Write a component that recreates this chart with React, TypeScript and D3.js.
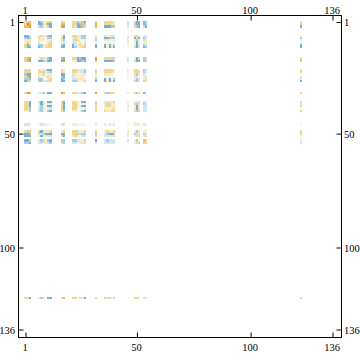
import React from "react";
import * as d3 from "d3";

const tickValues = [1, 50, 100, 136];
const indices = [1,2,3, 7,8,9,10,11,12, 17,18, 22,23,24,25,26,27, 32, 36,37,38,39,40, 46, 49,50,51, 53,54, 122];
// upper triangle of the symmetric matrix, each row starts on the diagonal
const upper: number[][] = [
  [2,2,3, -3,-2,1,1,2,2, 2,2, 2,2,-2,2,-2,-3, 2, 2,2,2,2,1, -1, 2,-3,-3, -3,-2, 2],
  [5,3, -3,-3,1,2,-3,-3, 3,3, 2,2,-3,3,-2,-2, 4, 2,2,2,2,1, -1, -2,-3,-3, -3,-2, 2],
  [4, 2,-2,1,1,2,-3, 4,-3, 2,-1,-3,-3,3,2, 3, -3,-3,-3,-2,-2, 1, 2,3,-3, 2,-3, -3],
  [1,2,1,-1,-2,-3, 1,-3, 2,2,1,-1,-2,-2, 1, -1,1,1,-1,-1, 0, 2,2,1, -1,-1, 1],
  [1,1,0,-2,-2, 2,-3, 1,2,1,1,-2,-2, -1, -3,-3,-2,-2,-2, -1, -3,-1,-3, -2,-1, -2],
  [1,0,1,1, -1,-2, -1,2,2,0,0,1, -2, 1,1,1,1,1, 1, 1,-2,1, 2,1, 1],
  [0,1,2, 1,-1, -1,-1,0,1,0,-1, 0, 0,0,0,0,0, 1, 1,-3,1, 1,1, 0],
  [2,2, -2,-3, -3,-1,1,2,1,2, -3, -3,1,-3,1,-2, 0, 1,-3,-1, -2,-1, -3],
  [2, -3,-3, -3,-2,1,1,2,2, -3, -3,1,-3,-1,-3, 0, 2,-3,-1, -3,-2, -3],
  [3,-3, 2,2,-3,-2,-3,-3, 4, 2,2,2,2,2, -1, 1,-3,2, -2,2, 2],
  [4, 1,1,-3,-3,-2,-3, 3, -3,-3,-3,-3,-2, -1, 2,-3,-3, -2,-2, 3],
  [2,2,-1,-1,-1,-2, 2, 2,2,2,2,1, 1, 2,2,1, -2,-1, 2],
  [2,1,1,-1,-2, 2, 2,2,2,2,1, 1, 2,2,2, -2,-1, 2],
  [1,0,1,1, -1, 1,1,1,0,0, 0, -1,-2,1, -1,0, 0],
  [1,1,0, 1, 0,0,0,0,0, 0, 1,-1,0, 1,1, -1],
  [1,1, -2, -3,0,-3,0,-2, 0, 1,-2,-1, 1,-1, -1],
  [2, -3, -3,1,-3,1,-3, 0, 2,-2,-1, 2,-1, -3],
  [4, 2,-2,2,2,2, 1, 2,-2,2, -3,-1, 2],
  [1,-1,1,1,2, 1, 1,-1,-1, -1,-1, 2],
  [2,2,1,1, 0, 2,-2,-1, -2,-1, -1],
  [2,1,1, -1, 1,-3,1, -1,-1, 2],
  [1,2, 0, 1,-3,-1, -1,-1, 0],
  [2, 1, 2,-2,2, -1,-1, 2],
  [0, 1,1,1, -1,0, 0],
  [1,-2,1, 1,1, 2],
  [2,-1, -2,-1, 2],
  [2, 1,2, 1],
  [3,2, -1],
  [2, -1],
  [2],
];

const width = 360;
const height = 353;
const frame = { left: 18.5, right: 341.5, top: 15.5, bottom: 337.5 };
const tickLen = 5;

const x = d3.scaleLinear().domain([1, 136]).range([26, 333]);
const y = d3.scaleLinear().domain([1, 136]).range([22.5, 330]);
const color = d3
  .scaleLinear<string>()
  .domain([-3, -2, -1, 0, 1, 2, 3, 4, 5])
  .range(["#74b1d6", "#a9cee3", "#d3e5f0", "#f6f6ec", "#f5ebc4", "#f0d690", "#edbb5e", "#e8a324", "#e0801c"]);

const font = { fontFamily: "'Liberation Serif', serif", fontSize: 10.5, fill: "#000" };

export default function App() {
  const cw = x(2) - x(1);
  const ch = y(2) - y(1);
  const cells: { r: number; c: number; v: number }[] = [];
  upper.forEach((row, i) => {
    row.forEach((v, k) => {
      const j = i + k;
      cells.push({ r: indices[i], c: indices[j], v });
      if (i !== j) cells.push({ r: indices[j], c: indices[i], v });
    });
  });
  return (
    <svg width={width} height={height} style={{ position: "absolute", left: 0, top: 0, background: "#fff" }}>
      <g shapeRendering="crispEdges">
        {cells.map((d, i) => (
          <rect
            key={i}
            x={x(d.c) - cw * 0.7}
            y={y(d.r) - ch * 0.7}
            width={cw}
            height={ch}
            fill={color(d.v)}
          />
        ))}
      </g>
      <rect
        x={frame.left}
        y={frame.top}
        width={frame.right - frame.left}
        height={frame.bottom - frame.top}
        fill="none"
        stroke="#000"
        strokeWidth={1}
      />
      {tickValues.map((t) => (
        <g key={t}>
          <line x1={x(t)} x2={x(t)} y1={frame.top} y2={frame.top + tickLen} stroke="#000" />
          <line x1={x(t)} x2={x(t)} y1={frame.bottom} y2={frame.bottom - tickLen} stroke="#000" />
          <line y1={y(t)} y2={y(t)} x1={frame.left} x2={frame.left + tickLen} stroke="#000" />
          <line y1={y(t)} y2={y(t)} x1={frame.right} x2={frame.right - tickLen} stroke="#000" />
          <text x={x(t) - 1} y={10} textAnchor="middle" dominantBaseline="central" {...font}>{t}</text>
          <text x={x(t) - 1} y={347} textAnchor="middle" dominantBaseline="central" {...font}>{t}</text>
          <text x={15} y={y(t)} textAnchor="end" dominantBaseline="central" {...font}>{t}</text>
          <text x={344} y={y(t)} textAnchor="start" dominantBaseline="central" {...font}>{t}</text>
        </g>
      ))}
    </svg>
  );
}
